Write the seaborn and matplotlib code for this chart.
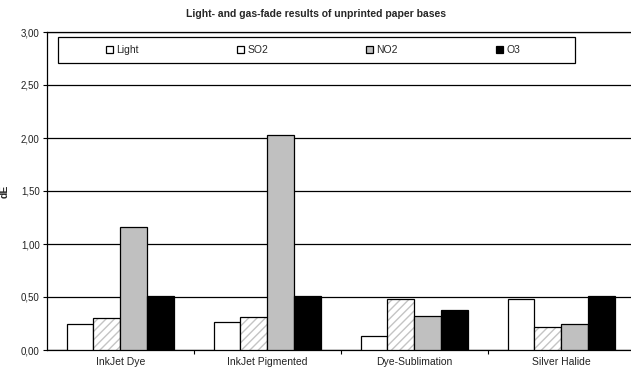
import matplotlib
matplotlib.use("Agg")
import matplotlib.pyplot as plt
import matplotlib.patches as mpatches
import pandas as pd
import seaborn as sns

# data
categories = ["InkJet Dye", "InkJet Pigmented", "Dye-Sublimation", "Silver Halide"]
series = ["Light", "SO2", "NO2", "O3"]
light = [0.25, 0.26, 0.13, 0.48]
so2 = [0.30, 0.31, 0.48, 0.22]
no2 = [1.16, 2.03, 0.32, 0.25]
o3 = [0.51, 0.51, 0.38, 0.51]
yticks = [0.0, 0.5, 1.0, 1.5, 2.0, 2.5, 3.0]

rows = []
for name, vals in zip(series, [light, so2, no2, o3]):
    for cat, v in zip(categories, vals):
        rows.append({"Paper": cat, "Test": name, "dE": v})
df = pd.DataFrame(rows)

sns.set_style("white")
plt.rcParams["font.family"] = ["Liberation Sans", "DejaVu Sans"]

fig = plt.figure(figsize=(6.31, 3.69), dpi=100)
ax = fig.add_axes([46.7 / 631, 19 / 369, 588 / 631, 318 / 369])

palette = {"Light": "white", "SO2": "white", "NO2": "#c0c0c0", "O3": "black"}
sns.barplot(data=df, x="Paper", y="dE", hue="Test", order=categories, hue_order=series,
            palette=palette, width=0.727, edgecolor="black", linewidth=0.9,
            saturation=1, ax=ax, zorder=3)

handles, labels = ax.get_legend_handles_labels()
ax.get_legend().remove()

# hatch for SO2 bars (light grey diagonal)
for bar in ax.containers[1]:
    bar.set_hatch("////")
    if hasattr(bar, "set_hatchcolor"):
        bar.set_hatchcolor("#c4c4c4")
    else:
        bar._hatch_color = (0.77, 0.77, 0.77, 1)

ax.set_ylim(0, 3)
ax.set_xlim(-0.5, 3.5)
ax.set_yticks(yticks)
ax.set_yticklabels([f"{t:.2f}".replace(".", ",") for t in yticks], fontsize=7, color="#222222")
ax.yaxis.grid(True, color="black", linewidth=0.9)
ax.set_axisbelow(True)
ax.tick_params(axis="y", direction="out", length=3, width=0.8, color="black", pad=2, left=True)
ax.tick_params(axis="x", which="major", length=0, labelsize=7.5, pad=5, labelcolor="#222222")
ax.set_xticks([0.5, 1.5, 2.5], minor=True)
ax.tick_params(axis="x", which="minor", direction="out", length=3, width=0.8, color="black", bottom=True)
ax.set_xlabel("")
ax.set_ylabel("dE", fontsize=7.5, fontweight="bold", labelpad=8)

for s in ["left", "bottom", "top"]:
    ax.spines[s].set_color("black")
    ax.spines[s].set_linewidth(0.9)
ax.spines["right"].set_visible(False)

fig.suptitle("Light- and gas-fade results of unprinted paper bases", fontsize=7.5,
             fontweight="bold", x=0.5, y=0.975)

# legend box
frame = mpatches.Rectangle((58 / 631, 1 - 63 / 369), (575 - 58) / 631, 26 / 369,
                           transform=fig.transFigure, facecolor="white",
                           edgecolor="black", linewidth=0.9, zorder=5)
fig.patches.append(frame)
leg = fig.legend(handles, labels, loc="center", bbox_to_anchor=(313 / 631, 1 - 50 / 369),
                 ncol=4, frameon=False, fontsize=7.5, handlelength=0.7, handleheight=0.7,
                 handletextpad=0.3, columnspacing=9.4)
leg.set_zorder(6)

fig.savefig("out.png", dpi=100)
